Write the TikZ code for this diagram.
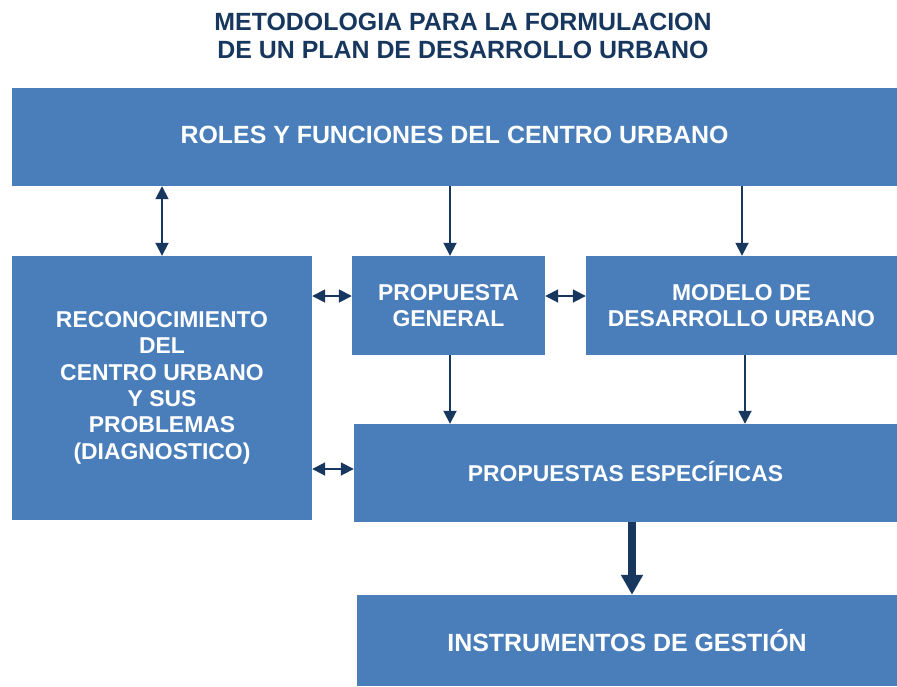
\documentclass[tikz,border=0pt]{standalone}
\usepackage{fontspec}
\setmainfont{Liberation Sans}
\usetikzlibrary{arrows.meta}
\definecolor{boxblue}{HTML}{4A7EBB}
\definecolor{navy}{HTML}{17375E}
\begin{document}
\begin{tikzpicture}[x=1pt,y=-1pt,
  blk/.style={fill=boxblue,draw=none,inner sep=0pt,text=white,font=\bfseries\fontsize{24.9}{26.3}\selectfont,align=center},
  blks/.style={blk,font=\bfseries\fontsize{22.9}{26.3}\selectfont},
  conn/.style={draw=navy,line width=1.8pt,-{Triangle[length=13pt,width=13pt]}},
  dconn/.style={draw=navy,line width=1.8pt,{Triangle[length=13pt,width=13pt]}-{Triangle[length=13pt,width=13pt]}},
  thick conn/.style={draw=navy,line width=8pt,-{Triangle[length=20pt,width=21pt]}}]
\useasboundingbox (0,0) rectangle (897,686);
\node[text=navy,font=\bfseries\fontsize{24.9}{28}\selectfont,align=center] (title) at (463,36)
  {METODOLOGIA PARA LA FORMULACION\\DE UN PLAN DE DESARROLLO URBANO};
\node[blk,minimum width=885pt,minimum height=98pt] (roles) at (454.5,137) {\raisebox{4pt}{ROLES Y FUNCIONES DEL CENTRO URBANO}};
\node[blks,minimum width=300pt,minimum height=264pt] (recon) at (162,388)
  {\raisebox{2pt}{\begin{tabular}{@{}c@{}}RECONOCIMIENTO\\DEL\\CENTRO URBANO\\Y SUS\\PROBLEMAS\\(DIAGNOSTICO)\end{tabular}}};
\node[blks,minimum width=193pt,minimum height=99pt] (pg) at (448.5,305.5) {PROPUESTA\\GENERAL};
\node[blks,minimum width=311pt,minimum height=99pt] (modelo) at (741.5,305.5) {MODELO DE\\DESARROLLO URBANO};
\node[blks,minimum width=543pt,minimum height=98pt] (pe) at (625.5,473) {\raisebox{4pt}{PROPUESTAS ESPECÍFICAS}};
\node[blk,minimum width=540pt,minimum height=91pt] (inst) at (627,640.5) {INSTRUMENTOS DE GESTIÓN};
\draw[dconn] (roles.south -| 162,0) -- (recon.north -| 162,0);
\draw[conn] (roles.south -| 450,0) -- (pg.north -| 450,0);
\draw[conn] (roles.south -| 742,0) -- (modelo.north -| 742,0);
\draw[dconn] (recon.east |- 0,296) -- (pg.west |- 0,296);
\draw[dconn] (pg.east |- 0,296) -- (modelo.west |- 0,296);
\draw[conn] (pg.south -| 450,0) -- (pe.north -| 450,0);
\draw[conn] (modelo.south -| 745,0) -- (pe.north -| 745,0);
\draw[dconn] (recon.east |- 0,469) -- (pe.west |- 0,469);
\draw[thick conn] (pe.south -| 632,0) -- (inst.north -| 632,0);
\end{tikzpicture}
\end{document}
